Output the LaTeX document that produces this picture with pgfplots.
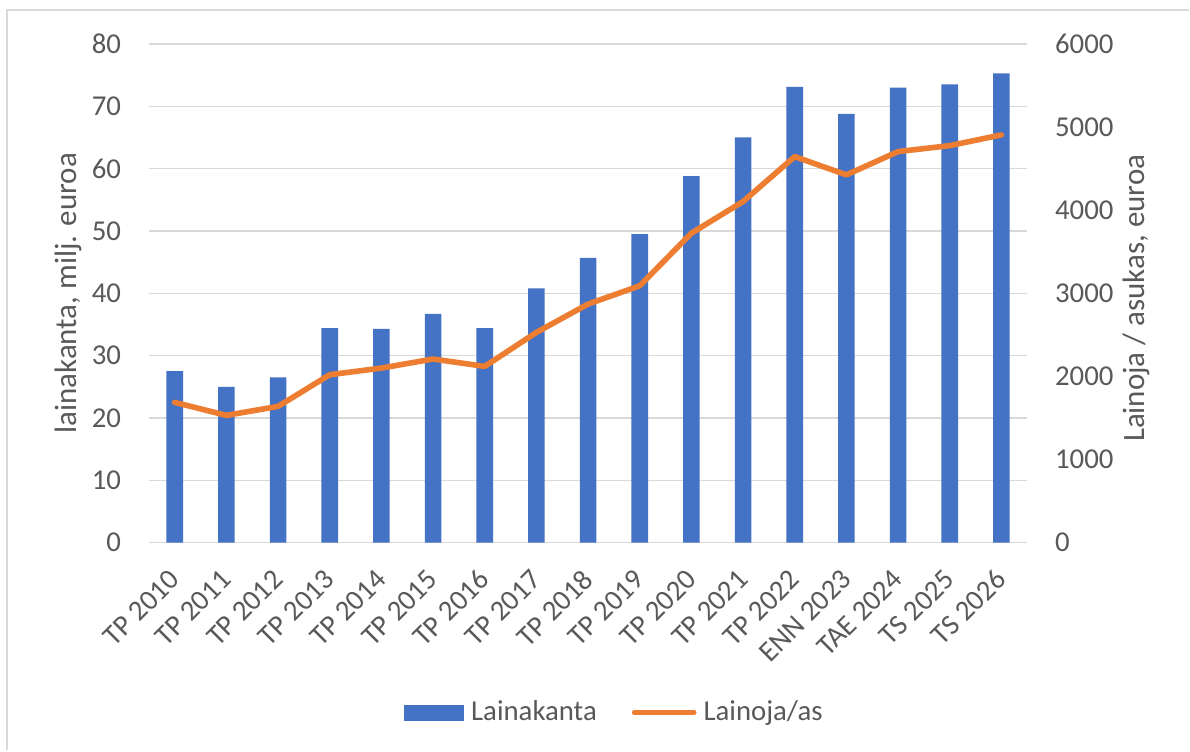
\documentclass[border=0pt]{standalone}
\usepackage{pgfplots}
\pgfplotsset{compat=1.18}
\usepackage{fontspec}
\setmainfont{Carlito}
\definecolor{xblue}{HTML}{4472C4}
\definecolor{xorange}{HTML}{ED7D31}
\definecolor{xgrid}{HTML}{D9D9D9}
\definecolor{xtext}{HTML}{595959}
\begin{document}
\begin{tikzpicture}[x=1pt,y=1pt]
\fill[white] (0,0) rectangle (595,375.5);
\draw[xgrid, line width=0.9pt] (3.65,0) -- (3.65,370.5) -- (595,370.5);
\pgfplotsset{
  common/.style={
    scale only axis, width=439.5pt, height=249.5pt,
    at={(74.5pt,104pt)}, anchor=south west,
    xmin=-0.5, xmax=16.5,
    axis line style={draw=none},
    tick style={draw=none},
    tick label style={font=\fontsize{14.4}{16}\selectfont, text=xtext, inner sep=0pt},
    label style={font=\fontsize{15.5}{18}\selectfont, text=xtext, inner sep=0pt},
    /pgf/number format/assume math mode=true,
    yticklabel shift=13.75pt,
  }
}
\begin{axis}[common,
  ymin=0, ymax=80, ytick={0,10,...,80},
  ymajorgrids, grid style={xgrid, line width=0.75pt},
  xtick={0,...,16},
  xticklabels={TP 2010,TP 2011,TP 2012,TP 2013,TP 2014,TP 2015,TP 2016,TP 2017,TP 2018,TP 2019,TP 2020,TP 2021,TP 2022,ENN 2023,TAE 2024,TS 2025,TS 2026},
  xticklabel shift=16pt,
  xticklabel style={rotate=45, anchor=east},
  ylabel={lainakanta, milj. euroa},
  ylabel style={at={(axis description cs:-0.0819,0.5)}, rotate=0, anchor=base},
]
\addplot[ybar, bar width=8.3pt, fill=xblue, draw=none] coordinates {
(0,27.5) (1,25.0) (2,26.5) (3,34.4) (4,34.3) (5,36.7) (6,34.4) (7,40.8) (8,45.7)
(9,49.5) (10,58.8) (11,65.0) (12,73.1) (13,68.8) (14,73.0) (15,73.5) (16,75.3)};
\end{axis}
\begin{axis}[common,
  ymin=0, ymax=6000, ytick={0,1000,...,6000},
  axis x line=none,
  yticklabel pos=right,
  scaled y ticks=false,
  /pgf/number format/1000 sep={},
  ylabel={Lainoja / asukas, euroa},
  ylabel style={at={(axis description cs:1.1331,0.49)}, rotate=0, anchor=base},
  legend columns=2,
  legend style={at={(0.529,-0.3407)}, anchor=center, draw=none, fill=none,
    inner sep=0pt, nodes={inner sep=0pt},
    font=\fontsize{14.4}{16}\selectfont, text=xtext,
    /tikz/every odd column/.append style={column sep=3.5pt},
    /tikz/every even column/.append style={column sep=17.5pt}},
]
\addlegendimage{legend image code/.code={\fill[xblue] (0pt,-3.75pt) rectangle (29.5pt,3.75pt);}}
\addlegendentry{Lainakanta}
\addplot[xorange, line width=2.8pt, line join=round, line cap=round, mark=none,
  legend image code/.code={\draw[xorange, line width=2.8pt, line cap=round] (1.4pt,0pt) -- (31pt,0pt);}] coordinates {
(0,1687) (1,1531) (2,1639) (3,2020) (4,2100) (5,2209) (6,2120) (7,2529) (8,2870)
(9,3090) (10,3723) (11,4104) (12,4645) (13,4425) (14,4705) (15,4777) (16,4906)};
\addlegendentry{Lainoja/as}
\end{axis}
\end{tikzpicture}
\end{document}
